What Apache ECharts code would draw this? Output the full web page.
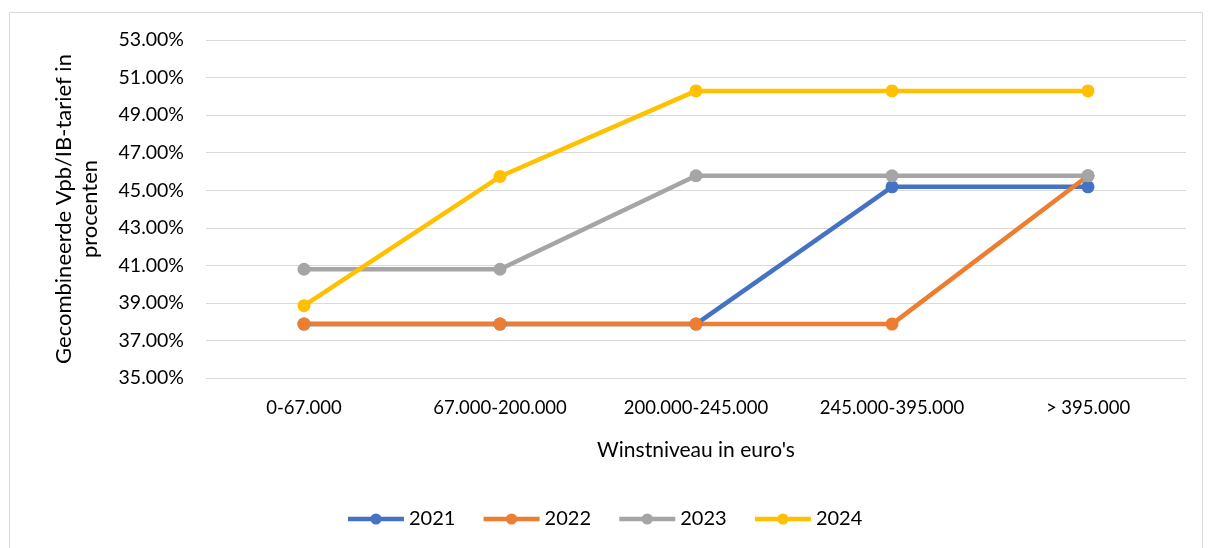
<!DOCTYPE html>
<html>
<head>
<meta charset="utf-8">
<script src="https://cdn.jsdelivr.net/npm/echarts@6/dist/echarts.min.js"></script>
<style>
  html, body { margin: 0; padding: 0; background: #fff; }
  #chart { width: 1208px; height: 548px; }
</style>
</head>
<body>
<div id="chart"></div>
<script>
// winstniveaus
var categories = ['0-67.000', '67.000-200.000', '200.000-245.000', '245.000-395.000', '> 395.000'];

// gecombineerd tarief per jaar (in %)
var rate2021 = [37.87, 37.87, 37.87, 45.18, 45.18];
var rate2022 = [37.87, 37.87, 37.87, 37.87, 45.77];
var rate2023 = [40.79, 40.79, 45.77, 45.77, 45.77];
var rate2024 = [38.85, 45.73, 50.29, 50.29, 50.29];

var years = ['2021', '2022', '2023', '2024'];
var colors = ['#4472C4', '#ED7D31', '#A5A5A5', '#FFC000'];

var font = 'Lato, "Open Sans", sans-serif';

(function(){

    var chart = echarts.init(document.getElementById('chart'));

    function line(name, data, color) {
        return {
            name: name,
            type: 'line',
            data: data,
            symbol: 'circle',
            symbolSize: 13,
            lineStyle: { width: 4.5, color: color },
            itemStyle: { color: color },
            emphasis: { disabled: true }
        };
    }

    var option = {
        animation: false,
        textStyle: { fontFamily: font },
        graphic: [{
            type: 'rect',
            left: 7, top: 10,
            shape: { width: 1193, height: 545 },
            style: { fill: 'none', stroke: '#D9D9D9', lineWidth: 1 }
        }],
        grid: {
            left: 206,
            right: 22,
            top: 40,
            bottom: 170
        },
        legend: {
            bottom: 14,
            left: 'center',
            itemWidth: 56,
            itemHeight: 14,
            itemGap: 26,
            lineStyle: { width: 4.5 },
            textStyle: { fontSize: 20, color: '#000', fontFamily: font },
            data: years
        },
        xAxis: {
            type: 'category',
            data: categories,
            boundaryGap: true,
            axisLine: { show: false },
            axisTick: { show: false },
            axisLabel: { fontSize: 18.5, color: '#000', margin: 21, interval: 0 },
            name: "Winstniveau in euro's",
            nameLocation: 'middle',
            nameGap: 62,
            nameTextStyle: { fontSize: 21, color: '#000' }
        },
        yAxis: {
            type: 'value',
            min: 35,
            max: 53,
            interval: 2,
            axisLine: { show: false },
            axisTick: { show: false },
            axisLabel: {
                fontSize: 19.5,
                color: '#000',
                margin: 22,
                formatter: function (v) { return v.toFixed(2) + '%'; }
            },
            splitLine: { lineStyle: { color: '#D9D9D9', width: 1 } },
            name: 'Gecombineerde Vpb/IB-tarief in\nprocenten',
            nameLocation: 'middle',
            nameGap: 103,
            nameTextStyle: { fontSize: 22, color: '#000', lineHeight: 26 }
        },
        series: [
            line(years[0], rate2021, colors[0]),
            line(years[1], rate2022, colors[1]),
            line(years[2], rate2023, colors[2]),
            line(years[3], rate2024, colors[3])
        ]
    };

    chart.setOption(option);
})();
</script>
</body>
</html>
